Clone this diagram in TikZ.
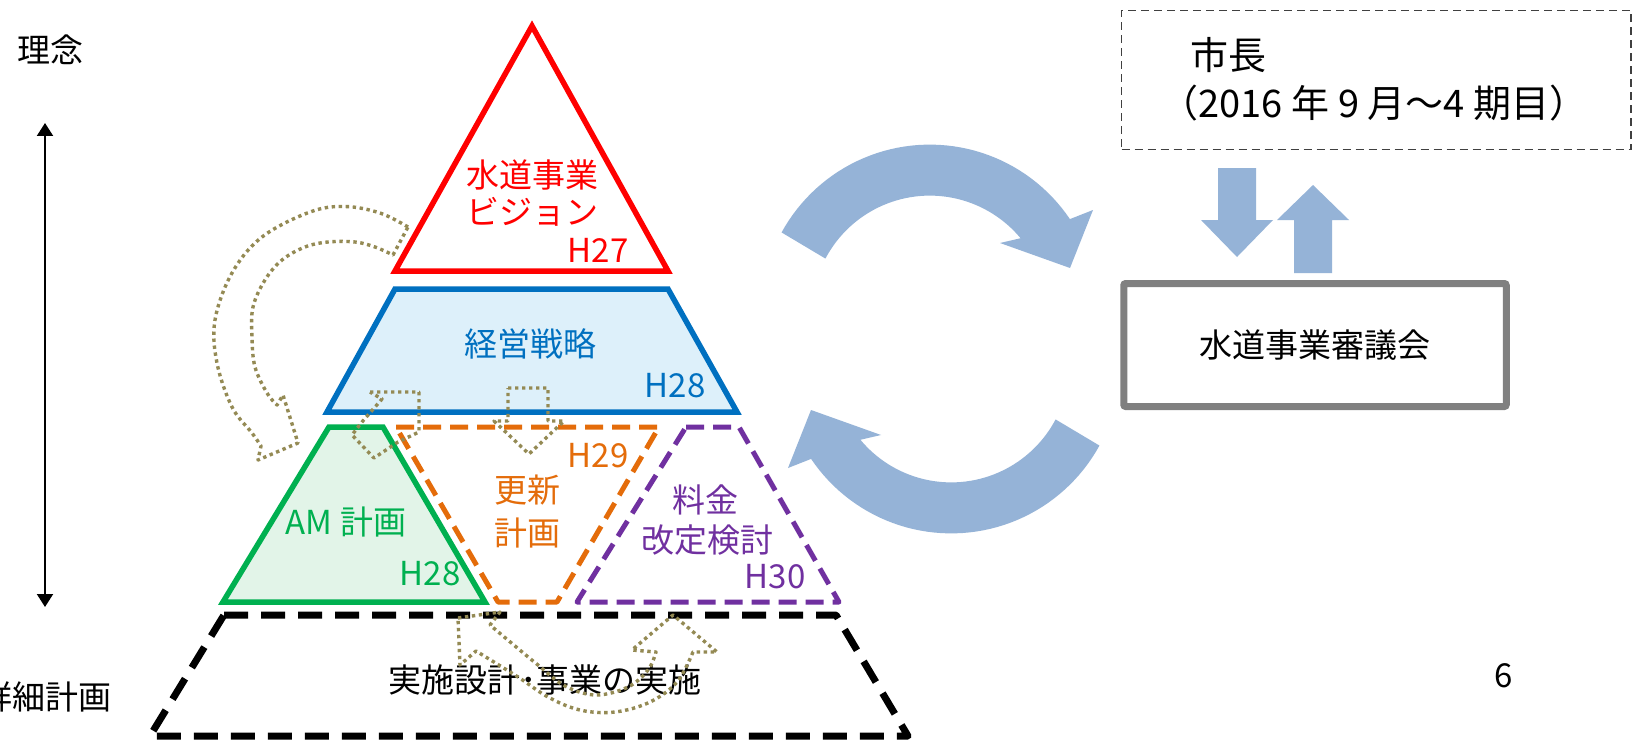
\documentclass[tikz,border=0pt]{standalone}
\usepackage{fontspec}
\setmainfont{Noto Sans CJK JP}
\usetikzlibrary{arrows.meta}
\definecolor{cRed}{HTML}{FF0000}
\definecolor{cBlue}{HTML}{0070C0}
\definecolor{cBlueFill}{HTML}{DDF0FA}
\definecolor{cGreen}{HTML}{00B050}
\definecolor{cGreenFill}{HTML}{E2F4E8}
\definecolor{cOrange}{HTML}{E46C0A}
\definecolor{cPurple}{HTML}{7030A0}
\definecolor{cOlive}{HTML}{948A54}
\definecolor{cArrow}{HTML}{95B3D7}
\definecolor{cGray}{HTML}{808080}
\newcommand\lblfont{\fontsize{33}{40}\selectfont}
\newcommand\bigfont{\fontsize{38}{44}\selectfont}
\begin{document}
\begin{tikzpicture}[x=1pt,y=-1pt,
  lbl/.style={font=\lblfont, inner sep=0pt, align=center},
  solidedge/.style={line width=5.5pt, line join=miter},
  dashedge/.style={line width=5pt, dash pattern=on 18pt off 9pt, line join=round},
  dotarr/.style={draw=cOlive, line width=3.4pt, dash pattern=on 3.4pt off 3.6pt, line join=round},
  blockarr/.style={fill=cArrow, draw=none}]
\useasboundingbox (0,0) rectangle (1638,741);
\fill[white] (0,0) rectangle (1638,741);

% ---------- left axis ----------
\node[lbl] (rinen) at (50,50) {理念};
\node[lbl, anchor=east] (shosai) at (112,697) {詳細計画};
\coordinate (axTop) at (45,123);
\coordinate (axBot) at (45,607);
\draw[line width=2pt, {Triangle[width=16pt,length=13pt]}-{Triangle[width=16pt,length=13pt]}] (axTop) -- (axBot);

% ---------- pyramid ----------
\coordinate (rA) at (532,26); \coordinate (rL) at (395,271); \coordinate (rR) at (668,271);
\draw[cRed, solidedge] (rA) -- (rL) -- (rR) -- cycle;

\coordinate (bTL) at (395,289); \coordinate (bTR) at (668,289);
\coordinate (bBR) at (737,412); \coordinate (bBL) at (327,412);
\draw[cBlue, fill=cBlueFill, solidedge] (bTL) -- (bTR) -- (bBR) -- (bBL) -- cycle;

\coordinate (gTL) at (329,427); \coordinate (gTR) at (383,427);
\coordinate (gBR) at (485,602); \coordinate (gBL) at (223,602);
\draw[cGreen, fill=cGreenFill, solidedge] (gTL) -- (gTR) -- (gBR) -- (gBL) -- cycle;

\coordinate (oTL) at (396,427); \coordinate (oTR) at (659,427);
\coordinate (oBR) at (557,602); \coordinate (oBL) at (498,602);
\draw[cOrange, dashedge] (oTL) -- (oTR) -- (oBR) -- (oBL) -- cycle;

\coordinate (pTL) at (686,427); \coordinate (pTR) at (739,427);
\coordinate (pBR) at (839,602); \coordinate (pBL) at (577,602);
\draw[cPurple, dashedge] (pTL) -- (pTR) -- (pBR) -- (pBL) -- cycle;

\coordinate (kTL) at (224,615); \coordinate (kTR) at (836,615);
\coordinate (kBR) at (908,736); \coordinate (kBL) at (150,736);
\draw[black, line width=7pt, dash pattern=on 24pt off 13pt, line join=round] (kTL) -- (kTR) -- (kBR) -- (kBL) -- cycle;

% ---------- pyramid labels ----------
\node[lbl, text=cRed] (vis1) at (532,175) {水道事業};
\node[lbl, text=cRed] (vis2) at (532,212) {ビジョン};
\node[lbl, text=cRed] (h27) at (598,250) {H27};
\node[lbl, text=cBlue] (senryaku) at (530,344) {経営戦略};
\node[lbl, text=cBlue] (h28b) at (675,386) {H28};
\node[lbl, text=cGreen] (am) at (346,522) {AM 計画};
\node[lbl, text=cGreen] (h28g) at (430,574) {H28};
\node[lbl, text=cOrange] (ko1) at (527,490) {更新};
\node[lbl, text=cOrange] (ko2) at (527,533) {計画};
\node[lbl, text=cOrange] (h29) at (598,456) {H29};
\node[lbl, text=cPurple] (ry1) at (705,500) {料金};
\node[lbl, text=cPurple] (ry2) at (707,540) {改定検討};
\node[lbl, text=cPurple] (h30) at (775,577) {H30};
\node[lbl] (jisshi) at (545,680) {実施設計･事業の実施};

% ---------- dotted arrows ----------
\draw[dotarr] plot[smooth, tension=0.6] coordinates {(408,227) (380,213) (345,206.5) (310,212) (262,237) (232,273) (215,320) (217,363) (232,407) (252,433) (261,446)}
  -- (258,460) -- (298,443) -- (283,395)
  -- plot[smooth, tension=0.6] coordinates {(277,405) (267,393) (255,367) (252,337) (253,307) (265,280) (282,260) (305,247) (328,242) (355,242) (375,247) (393,255)}
  -- cycle;
\draw[dotarr] (370,392) -- (419,392) -- (419,432) -- (398,442) -- (374,458) -- (352,435) -- (362,422) -- (382,399) -- cycle;
\draw[dotarr] (508,388) -- (548,388) -- (548,421) -- (564,421) -- (529,454) -- (494,421) -- (508,421) -- cycle;
\draw[dotarr] (458,618) -- (500,612)
  -- plot[smooth, tension=0.6] coordinates {(490,625) (515,646) (538,665) (565,686) (596,695) (628,687) (648,670) (656,652)}
  -- (632,650) -- (673,615) -- (717,652)
  -- plot[smooth, tension=0.6] coordinates {(693,652) (677,682) (650,702) (615,712) (580,710) (548,697) (518,677) (476,651)}
  -- (460,665) -- cycle;

% ---------- curved blue arrows ----------
\def\cyclearrow{plot[domain=-151.3:-34, samples=50] ({929.8+169*cos(\x)}, {313.6+169*sin(\x)})
  -- (1093,210) -- (1070,268) -- (1000,243)
  -- plot[domain=-39.7:-152.2, samples=50] ({929.8+118*cos(\x)}, {313.6+118*sin(\x)}) -- cycle}
\fill[cArrow] \cyclearrow;
\begin{scope}[rotate around={180:(940.5,339)}]
\fill[cArrow] \cyclearrow;
\end{scope}

% ---------- right side ----------
\node[draw=black!75, line width=1.7pt, dash pattern=on 8pt off 5pt, minimum width=509.5pt, minimum height=139pt, inner sep=0pt] (mayorbox) at (1376.25,80) {};
\node[font=\bigfont, inner sep=0pt, anchor=west] (mayor) at (1190,55) {市長};
\node[font=\bigfont, inner sep=0pt] (term) at (1374,103) {（2016 年 9 月～4 期目）};

\node[draw=cGray, line width=7pt, minimum width=382.5pt, minimum height=123pt, inner sep=0pt, rounded corners=2pt, font=\lblfont] (council) at (1315,345) {水道事業審議会};

\fill[cArrow] (1218,168) -- (1256,168) -- (1256,220) -- (1273,220) -- (1237,257) -- (1201,220) -- (1218,220) -- cycle;
\fill[cArrow] (1294,273) -- (1332,273) -- (1332,220) -- (1349,220) -- (1313,185) -- (1277,220) -- (1294,220) -- cycle;

\node[lbl] (pagenum) at (1504,676) {6};
\end{tikzpicture}
\end{document}
